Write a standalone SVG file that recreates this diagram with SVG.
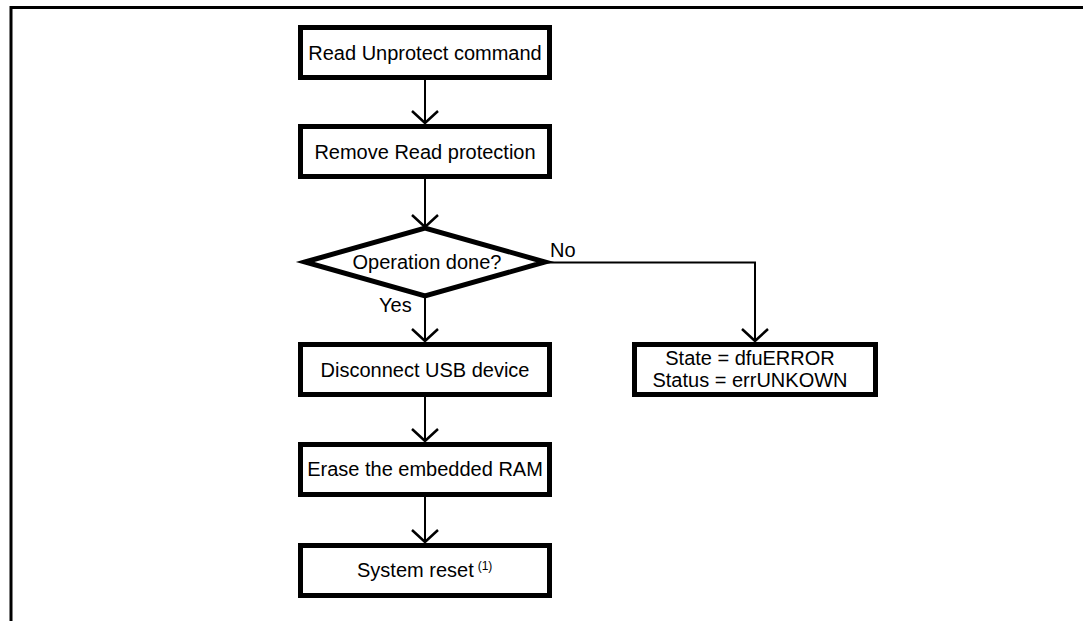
<svg xmlns="http://www.w3.org/2000/svg" width="1083" height="621" viewBox="0 0 1083 621">
<style>
.box{fill:#fff;stroke:#000;stroke-width:5}
.t{font-family:"Liberation Sans",Arial,sans-serif;font-size:20px;fill:#000}
.c{text-anchor:middle}
.ln{fill:none;stroke:#000;stroke-width:2}
.ah{fill:none;stroke:#000;stroke-width:2.5}
</style>
<rect width="1083" height="621" fill="#fff"/>
<g id="frame">
<path d="M11 621 V7.5 H1083" fill="none" stroke="#000" stroke-width="3"/>
</g>
<g id="connectors">
<path class="ln" d="M425 80 V123"/><path class="ah" d="M412 111 L425 123 L438 111"/>
<path class="ln" d="M425 179 V227"/><path class="ah" d="M412 215 L425 227 L438 215"/>
<path class="ln" d="M425 296 V341"/><path class="ah" d="M412 329 L425 341 L438 329"/>
<path class="ln" d="M425 397 V441"/><path class="ah" d="M412 429 L425 441 L438 429"/>
<path class="ln" d="M425 497 V542"/><path class="ah" d="M412 530 L425 542 L438 530"/>
<path class="ln" d="M545 262.5 H755 V341"/><path class="ah" d="M742 329 L755 341 L768 329"/>
<text class="t" x="550" y="257">No</text>
<text class="t" x="379" y="312">Yes</text>
</g>
<g id="n1"><rect class="box" x="300.5" y="27.5" width="249" height="50"/><text class="t c" x="425" y="59.5">Read Unprotect command</text></g>
<g id="n2"><rect class="box" x="300.5" y="126.5" width="249" height="50"/><text class="t c" x="425" y="158.5">Remove Read protection</text></g>
<g id="d1"><polygon points="305,262 425,228 545,262 425,296" fill="#fff" stroke="#000" stroke-width="5" stroke-linejoin="miter"/><text class="t c" x="427" y="269">Operation done?</text></g>
<g id="n3"><rect class="box" x="300.5" y="344.5" width="249" height="50"/><text class="t c" x="425" y="376.5">Disconnect USB device</text></g>
<g id="n4"><rect class="box" x="300.5" y="444.5" width="249" height="50"/><text class="t c" x="425" y="476">Erase the embedded RAM</text></g>
<g id="n5"><rect class="box" x="300.5" y="545.5" width="249" height="50"/><text class="t" x="357" y="577">System reset<tspan font-size="12" dx="4" dy="-7">(1)</tspan></text></g>
<g id="n6"><rect class="box" x="634.5" y="344.5" width="241" height="50"/><text class="t c" x="750" y="365">State = dfuERROR</text><text class="t c" x="750" y="387">Status = errUNKOWN</text></g>
</svg>
